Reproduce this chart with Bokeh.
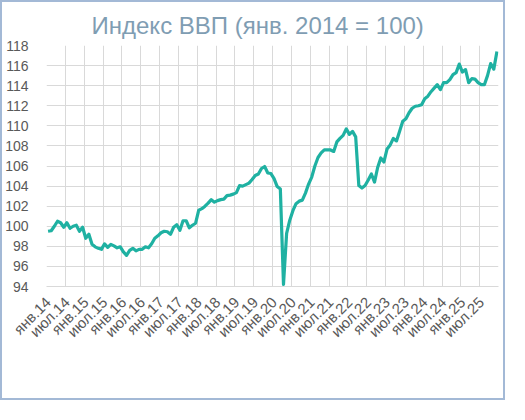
from bokeh.plotting import figure
from bokeh.models import Range1d, FixedTicker, ColumnDataSource
from bokeh.embed import file_html
from bokeh.resources import INLINE

# Monthly GDP index, Jan 2014 .. Dec 2025 (Jan 2014 = 100)
y2014 = [99.5, 99.55, 100.0, 100.5, 100.35, 99.9, 100.35, 99.8, 100.0, 100.1, 99.5, 99.9]
y2015 = [98.8, 99.2, 98.2, 97.95, 97.8, 97.7, 98.25, 97.9, 98.2, 98.05, 97.85, 97.95]
y2016 = [97.45, 97.1, 97.6, 97.8, 97.55, 97.7, 97.7, 97.95, 97.85, 98.25, 98.8, 99.05]
y2017 = [99.35, 99.5, 99.45, 99.2, 99.9, 100.15, 99.6, 100.55, 100.55, 99.85, 100.1, 100.3]
y2018 = [101.6, 101.75, 102.0, 102.3, 102.65, 102.4, 102.55, 102.65, 102.7, 103.05, 103.1, 103.2]
y2019 = [103.35, 104.05, 104.0, 104.15, 104.3, 104.65, 105.05, 105.2, 105.75, 105.95, 105.3, 105.25]
y2020 = [104.75, 103.95, 103.7, 94.2, 99.3, 100.6, 101.55, 102.25, 102.5, 102.6, 103.3, 104.2]
y2021 = [104.9, 106.0, 106.85, 107.3, 107.6, 107.6, 107.6, 107.45, 108.4, 108.75, 109.05, 109.7]
y2022 = [109.15, 109.45, 108.9, 104.05, 103.8, 104.05, 104.6, 105.2, 104.4, 105.85, 106.8, 106.4]
y2023 = [107.7, 108.1, 108.75, 108.5, 109.45, 110.45, 110.7, 111.3, 111.75, 111.95, 112.0, 112.1]
y2024 = [112.7, 112.95, 113.4, 113.75, 114.1, 113.6, 114.3, 114.3, 114.6, 115.1, 115.3, 116.15]
y2025 = [115.35, 115.6, 114.3, 114.7, 114.65, 114.3, 114.1, 114.1, 115.0, 116.2, 115.65, 117.4]

gdp_index = y2014 + y2015 + y2016 + y2017 + y2018 + y2019 + y2020 + y2021 + y2022 + y2023 + y2024 + y2025

tick_labels = ["янв.14", "июл.14", "янв.15", "июл.15", "янв.16", "июл.16",
               "янв.17", "июл.17", "янв.18", "июл.18", "янв.19", "июл.19",
               "янв.20", "июл.20", "янв.21", "июл.21", "янв.22", "июл.22",
               "янв.23", "июл.23", "янв.24", "июл.24", "янв.25", "июл.25"]
y_ticks = [94, 96, 98, 100, 102, 104, 106, 108, 110, 112, 114, 116, 118]
title_text = "Индекс ВВП (янв. 2014 = 100)"

n = len(gdp_index)
src = ColumnDataSource(dict(x=list(range(n)), y=gdp_index))

p = figure(width=505, height=400, output_backend="svg", toolbar_location=None,
           x_range=Range1d(-0.5, n - 0.5), y_range=Range1d(94, 118),
           min_border_left=42, min_border_right=9, min_border_top=43,
           min_border_bottom=116)
p.styles = {"border": "2px solid #a3b9d6"}
p.background_fill_color = "white"
p.border_fill_color = "white"
p.outline_line_color = None

p.line("x", "y", source=src, line_color="#1fb1a2", line_width=3.2, line_join="round")

label_ticks = list(range(0, n, 6))
p.xaxis.ticker = FixedTicker(ticks=label_ticks)
p.xaxis.major_label_overrides = {t: lab for t, lab in zip(label_ticks, tick_labels)}
p.xaxis.major_label_orientation = 0.785398
p.yaxis.ticker = FixedTicker(ticks=y_ticks)

p.xgrid.ticker = FixedTicker(ticks=[t - 0.5 for t in range(0, n + 1, 6)])
p.ygrid.ticker = FixedTicker(ticks=y_ticks)
p.xgrid.grid_line_color = "#d9d9d9"
p.ygrid.grid_line_color = "#d9d9d9"

for ax in (p.xaxis, p.yaxis):
    ax.major_tick_line_color = None
    ax.minor_tick_line_color = None
    ax.major_label_text_font = "Liberation Sans"
    ax.major_label_text_color = "#595959"
p.yaxis.major_label_text_font_size = "14px"
p.xaxis.major_label_text_font_size = "15px"
p.xaxis.axis_line_color = "#d9d9d9"
p.yaxis.axis_line_color = None
p.yaxis.major_label_standoff = 12
p.xaxis.major_label_standoff = 7

p.title.text = title_text
p.title.align = "left"
p.title.offset = 45
p.title.text_font = "Liberation Sans"
p.title.text_font_size = "24px"
p.title.text_font_style = "normal"
p.title.text_color = "#7f9db3"
p.title.standoff = 14

open("out.html", "w").write(file_html(p, INLINE))
